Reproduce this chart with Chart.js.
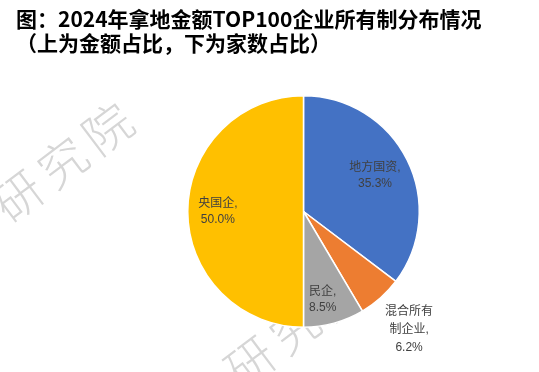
<!DOCTYPE html>
<html>
<head>
<meta charset="utf-8">
<script src="https://cdn.jsdelivr.net/npm/chart.js@4/dist/chart.umd.min.js"></script>
<style>
  html, body {
    margin: 0;
    padding: 0;
    background: #fff;
  }
  .wrap {
    position: relative;
    width: 539px;
    height: 372px;
    overflow: hidden;
  }
  .title {
    position: absolute;
    left: 16px;
    margin: 0;
    font-family: 'Noto Sans CJK SC', sans-serif;
    font-weight: bold;
    font-size: 21px;
    line-height: 24px;
    color: #000;
    white-space: nowrap;
  }
  canvas {
    position: absolute;
    left: 0;
    top: 0;
  }
</style>
</head>
<body>
<div class="wrap">
  <canvas id="chart" width="539" height="372"></canvas>
  <p class="title" style="top: 6px;">图：2024年拿地金额TOP100企业所有制分布情况</p>
  <p class="title" style="top: 30px;">（上为金额占比，下为家数占比）</p>
</div>
<script>
const categories = [`地方国资`, `混合所有制企业`, `民企`, `央国企`];
const shares = [35.3, 6.2, 8.5, 50.0];
const nameLines = [[`地方国资`], [`混合所有`, `制企业`], [`民企`], [`央国企`]];
const sliceColors = [`#4472c4`, `#ed7d31`, `#a5a5a5`, `#ffc000`];

// label placement: fraction of the radius along the slice's middle angle
const labelRadius = [0.69, 1.37, 0.79, 0.74];
const labelShiftX = [0, 0, -5, 0];

const watermarkPlugin = {
  id: `watermark`,
  beforeDatasetsDraw(chart) {
    const ctx = chart.ctx;
    const marks = [[18, 196], [250, 362]];
    ctx.save();
    ctx.fillStyle = `#d6d6d6`;
    ctx.font = `300 48px 'Noto Sans CJK SC', sans-serif`;
    ctx.textAlign = `center`;
    ctx.textBaseline = `middle`;
    marks.forEach(([x, y]) => {
      ctx.save();
      ctx.translate(x, y);
      ctx.rotate(-37 * Math.PI / 180);
      [`研`, `究`, `院`].forEach((ch, i) => {
        ctx.fillText(ch, i * 56, 0);
      });
      ctx.restore();
    });
    ctx.restore();
  }
};

const sliceLabelPlugin = {
  id: `sliceLabels`,
  afterDatasetsDraw(chart) {
    const ctx = chart.ctx;
    const arcs = chart.getDatasetMeta(0).data;
    ctx.save();
    ctx.fillStyle = `#404040`;
    ctx.font = `12px 'Liberation Sans', 'Noto Sans CJK SC', sans-serif`;
    ctx.textAlign = `center`;
    ctx.textBaseline = `middle`;
    arcs.forEach((arc, i) => {
      const {x, y, startAngle, endAngle, outerRadius} = arc.getProps([`x`, `y`, `startAngle`, `endAngle`, `outerRadius`], true);
      const mid = (startAngle + endAngle) / 2;
      const r = outerRadius * labelRadius[i];
      const cx = x + Math.cos(mid) * r + labelShiftX[i];
      const cy = y + Math.sin(mid) * r;
      const lines = nameLines[i].slice();
      lines[lines.length - 1] += `,`;
      lines.push(shares[i].toFixed(1) + `%`);
      const lineHeight = i === 1 ? 18 : 16;
      const top = cy - (lines.length - 1) * lineHeight / 2;
      lines.forEach((line, j) => {
        ctx.fillText(line, cx, top + j * lineHeight);
      });
    });
    ctx.restore();
  }
};

new Chart(document.getElementById(`chart`), {
  type: `pie`,
  data: {
    labels: categories,
    datasets: [{
      data: shares,
      backgroundColor: sliceColors,
      borderColor: `#ffffff`,
      borderWidth: 1.5
    }]
  },
  options: {
    responsive: false,
    animation: false,
    layout: {
      padding: {left: 187, right: 119, top: 95, bottom: 44}
    },
    plugins: {
      legend: {display: false},
      tooltip: {enabled: false},
      title: {display: false}
    }
  },
  plugins: [watermarkPlugin, sliceLabelPlugin]
});
</script>
</body>
</html>
